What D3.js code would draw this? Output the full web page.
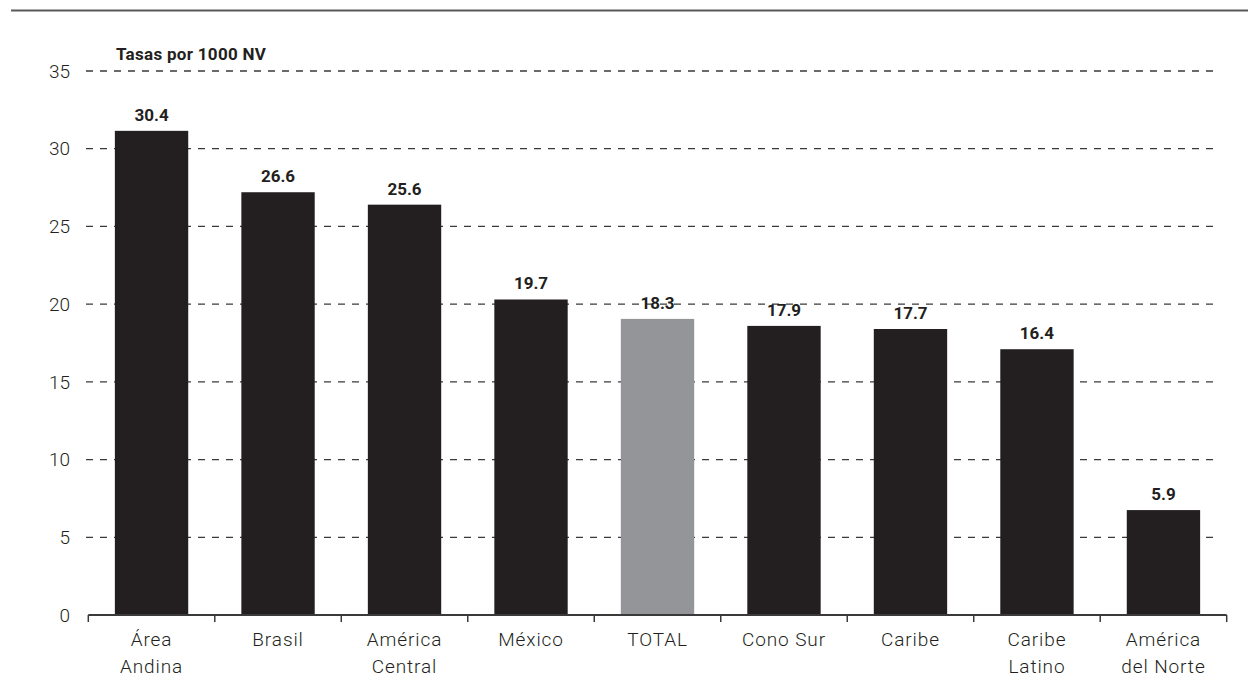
<!DOCTYPE html>
<html>
<head>
<meta charset="utf-8">
<script src="https://cdn.jsdelivr.net/npm/d3@7"></script>
<style>
  html, body { margin: 0; padding: 0; background: #fff; }
  svg { display: block; }
  text { font-family: Roboto, "Noto Sans", sans-serif; }
</style>
</head>
<body>
<script>
// Data
const categories = [["Área", "Andina"], ["Brasil"], ["América", "Central"], ["México"], ["TOTAL"], ["Cono Sur"], ["Caribe"], ["Caribe", "Latino"], ["América", "del Norte"]];
const valueLabels = ["30.4", "26.6", "25.6", "19.7", "18.3", "17.9", "17.7", "16.4", "5.9"];
// Bar heights as drawn in the reference (bars sit slightly above the printed values)
const barHeights = [31.15, 27.2, 26.4, 20.3, 19.05, 18.6, 18.4, 17.1, 6.75];
const highlight = ["TOTAL"];
const yTicks = [0, 5, 10, 15, 20, 25, 30, 35];
const yTitle = "Tasas por 1000 NV";

const W = 1248, H = 698;
const svg = d3.select("body").append("svg").attr("width", W).attr("height", H);

const x0 = 88.3, x1 = 1226.7, yBase = 615, yTop = 71;
const keys = categories.map(c => c.join(" "));
const x = d3.scaleBand().domain(keys).range([x0, x1]).paddingInner(0.42).paddingOuter(0.21);
const y = d3.scaleLinear().domain([0, 35]).range([yBase, yTop]);

// top rule
svg.append("line").attr("x1", 11).attr("x2", W).attr("y1", 10.5).attr("y2", 10.5)
  .attr("stroke", "#58595b").attr("stroke-width", 2);

// gridlines
svg.append("g").selectAll("line").data(yTicks.filter(d => d > 0)).join("line")
  .attr("x1", 86).attr("x2", 1220)
  .attr("y1", d => y(d)).attr("y2", d => y(d))
  .attr("stroke", "#3a3a3a").attr("stroke-width", 1.3).attr("stroke-dasharray", "7,7");

// y tick labels
svg.append("g").selectAll("text").data(yTicks).join("text")
  .attr("x", 70).attr("y", d => y(d)).attr("dy", "0.35em")
  .attr("text-anchor", "end").attr("font-size", 19).attr("font-weight", 300).attr("fill", "#231f20")
  .text(d => d);

// y title
svg.append("text").attr("x", 116).attr("y", 59.5).attr("font-size", 17).attr("font-weight", 700)
  .attr("letter-spacing", 0.3).attr("fill", "#231f20").text(yTitle);

// bars
svg.append("g").selectAll("rect").data(keys).join("rect")
  .attr("x", d => x(d)).attr("width", x.bandwidth())
  .attr("y", (d, i) => y(barHeights[i]))
  .attr("height", (d, i) => yBase - y(barHeights[i]))
  .attr("fill", d => highlight.includes(d) ? "#939598" : "#231f20");

// value labels
svg.append("g").selectAll("text").data(keys).join("text")
  .attr("x", d => x(d) + x.bandwidth() / 2)
  .attr("y", (d, i) => y(barHeights[i]) - 10)
  .attr("text-anchor", "middle").attr("font-size", 17).attr("font-weight", 700)
  .attr("fill", "#231f20")
  .text((d, i) => valueLabels[i]);

// x axis
const axis = svg.append("g");
axis.append("line").attr("x1", x0).attr("x2", x1).attr("y1", yBase).attr("y2", yBase)
  .attr("stroke", "#3a3a3a").attr("stroke-width", 2);
const tickPos = d3.range(keys.length + 1).map(i => x0 + i * (x1 - x0) / keys.length);
axis.selectAll(".tk").data(tickPos).join("line").attr("class", "tk")
  .attr("x1", d => d).attr("x2", d => d).attr("y1", yBase).attr("y2", yBase + 7)
  .attr("stroke", "#3a3a3a").attr("stroke-width", 1.5);

// category labels
const cl = svg.append("g").selectAll("text").data(categories).join("text")
  .attr("x", (d, i) => x(keys[i]) + x.bandwidth() / 2)
  .attr("y", 646)
  .attr("text-anchor", "middle").attr("font-size", 19).attr("font-weight", 300).attr("fill", "#231f20")
  .attr("letter-spacing", 0.9);
cl.selectAll("tspan").data(d => d).join("tspan")
  .attr("x", function () { return this.parentNode.getAttribute("x"); })
  .attr("dy", (d, i) => i === 0 ? 0 : 26.5)
  .text(d => d);
</script>
</body>
</html>
